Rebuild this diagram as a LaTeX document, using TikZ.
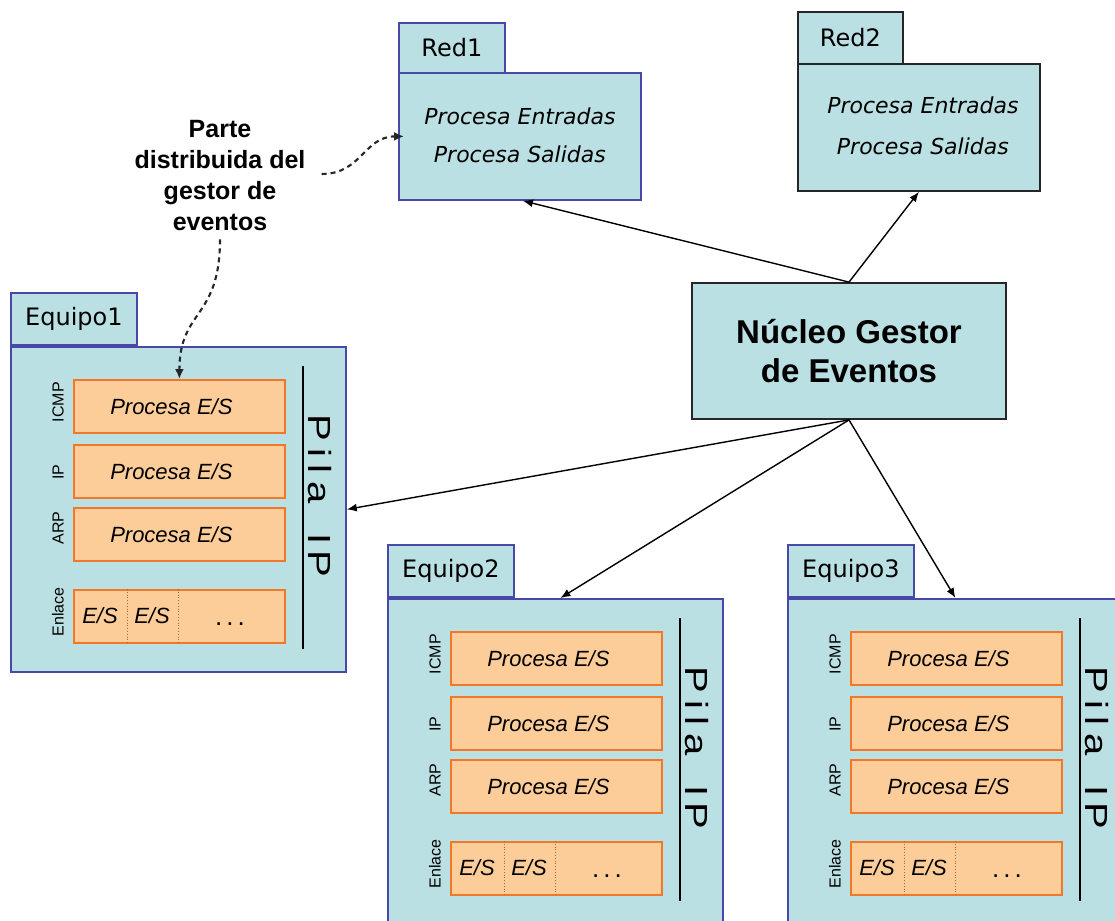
\documentclass[tikz,border=0pt]{standalone}
\usepackage{fontspec}
\setmainfont{Liberation Sans}
\newfontfamily\verd{DejaVu Sans}
\usetikzlibrary{arrows.meta,calc}

\definecolor{pkgfill}{RGB}{187,224,227}
\definecolor{pkgline}{RGB}{72,72,168}
\definecolor{boxfill}{RGB}{252,204,153}
\definecolor{boxline}{RGB}{240,120,40}

\tikzset{
  pkgbox/.style={rectangle, draw=pkgline, line width=1.8pt, fill=pkgfill, inner sep=0pt},
  darkpkg/.style={pkgbox, draw=black!85},
  tabtext/.style={font=\verd\fontsize{24}{28}\selectfont},
  probox/.style={rectangle, draw=boxline, line width=1.8pt, fill=boxfill, inner sep=0pt,
                 minimum width=211pt, minimum height=53pt, anchor=north west},
  iotext/.style={font=\itshape\fontsize{22}{26}\selectfont, inner sep=0pt},
  sidelbl/.style={font=\fontsize{16}{18}\selectfont, rotate=90, inner sep=0pt},
  pilatext/.style={font=\fontsize{32}{36}\selectfont, rotate=-90, inner sep=0pt},
  divider/.style={draw=boxline!80!black, line width=0.8pt, dotted},
  arr/.style={-{Latex[length=10pt,width=8pt]}, line width=1.4pt},
  dasharr/.style={-{Latex[length=10pt,width=9pt]}, line width=2.1pt, dash pattern=on 5pt off 4pt, black!85},
}

% One host package: tab, body, protocol stack and the "Pila IP" bar
\newcommand\drawequipo[4]{%
  \begin{scope}[shift={(#2,#3)}]
    \node[pkgbox, tabtext, minimum width=126pt, minimum height=52pt, anchor=south west] (#1tab) at (0,0) {#4};
    \node[pkgbox, minimum width=335pt, minimum height=325pt, anchor=north west] (#1body) at (0,0) {};
    \node[probox] (#1icmp) at (63,33) {};
    \node[probox] (#1ip)   at (63,98) {};
    \node[probox] (#1arp)  at (63,161) {};
    \node[probox] (#1enl)  at (63,243) {};
    \node[iotext] (#1icmptxt) at ($(#1icmp.center)+(-8,0)$) {Procesa E/S};
    \node[iotext] (#1iptxt)   at ($(#1ip.center)+(-8,0)$) {Procesa E/S};
    \node[iotext] (#1arptxt)  at ($(#1arp.center)+(-8,0)$) {Procesa E/S};
    \draw[divider] ($(#1enl.north west)+(54,0)$) -- ($(#1enl.south west)+(54,0)$);
    \draw[divider] ($(#1enl.north west)+(105,0)$) -- ($(#1enl.south west)+(105,0)$);
    \node[iotext, anchor=base] (#1esa) at (90,277.5) {E/S};
    \node[iotext, anchor=base] (#1esb) at (142,277.5) {E/S};
    \node[font=\fontsize{26}{28}\selectfont, inner sep=0pt, anchor=base] (#1esc) at (220,279)
      {.\hspace{4pt}.\hspace{4pt}.};
    \node[sidelbl] (#1licmp) at (48,56) {ICMP};
    \node[sidelbl] (#1lip)   at (48,126) {IP};
    \node[sidelbl] (#1larp)  at (48,182) {ARP};
    \node[sidelbl] (#1lenl)  at (48,266) {Enlace};
    \draw[line width=1.5pt] (293,20) -- (293,303);
    \node[pilatext] (#1pila) at (310,150)
      {\scalebox{1.25}[1]{P\hspace{6pt}i\hspace{6pt}l\hspace{6pt}a\hspace{24pt}I\hspace{5pt}P}};
  \end{scope}}

\begin{document}
\begin{tikzpicture}[x=1pt,y=-1pt]
\path[use as bounding box] (0,0) rectangle (1115,920);
\clip (0,0) rectangle (1115,920);

% network packages
\node[pkgbox, tabtext, minimum width=106pt, minimum height=50pt, anchor=north west] (redatab) at (398,22) {Red1};
\node[pkgbox, minimum width=242pt, minimum height=127pt, anchor=north west] (redabody) at (398,72) {};
\node[font=\verd\itshape\fontsize{22}{38}\selectfont, align=center] (redatxt)
  at ($(redabody.center)+(0,-1.5)$) {Procesa Entradas\\Procesa Salidas};

\node[darkpkg, tabtext, minimum width=105pt, minimum height=52pt, anchor=north west] (redbtab) at (797,11) {Red2};
\node[darkpkg, minimum width=242pt, minimum height=127pt, anchor=north west] (redbbody) at (797,63) {};
\node[font=\verd\itshape\fontsize{22}{41}\selectfont, align=center] (redbtxt)
  at ($(redbbody.center)+(4,-2)$) {Procesa Entradas\\Procesa Salidas};

% central event manager
\node[darkpkg, minimum width=314pt, minimum height=136pt, font=\bfseries\fontsize{33}{39}\selectfont,
      align=center] (nucleo) at (849,351) {Núcleo Gestor\\de Eventos};

% hosts
\drawequipo{eqa}{10}{346}{Equipo1}
\drawequipo{eqb}{387}{598}{Equipo2}
\drawequipo{eqc}{787}{598}{Equipo3}

% note on the distributed part
\node[font=\bfseries\fontsize{25}{31}\selectfont, align=center, inner sep=2pt] (nota) at (220,176)
  {Parte\\distribuida del\\gestor de\\eventos};

% connectors from the core
\draw[arr] (nucleo.north) -- ([xshift=3pt]redabody.south);
\draw[arr] (nucleo.north) -- (redbbody.south);
\draw[arr] (nucleo.south) -- (eqabody.east);
\draw[arr] (nucleo.south) -- ([xshift=5pt]eqbbody.north);
\draw[arr] (nucleo.south) -- (eqcbody.north);

% dashed pointers from the note
\draw[dasharr] ([xshift=14pt,yshift=2pt]nota.east) .. controls +(40,0) and +(-40,0) .. ([xshift=6pt]redabody.west);
\draw[dasharr] ([yshift=-6pt]nota.south) .. controls +(0,80) and +(0,-70) .. (eqaicmp.north);
\end{tikzpicture}
\end{document}
